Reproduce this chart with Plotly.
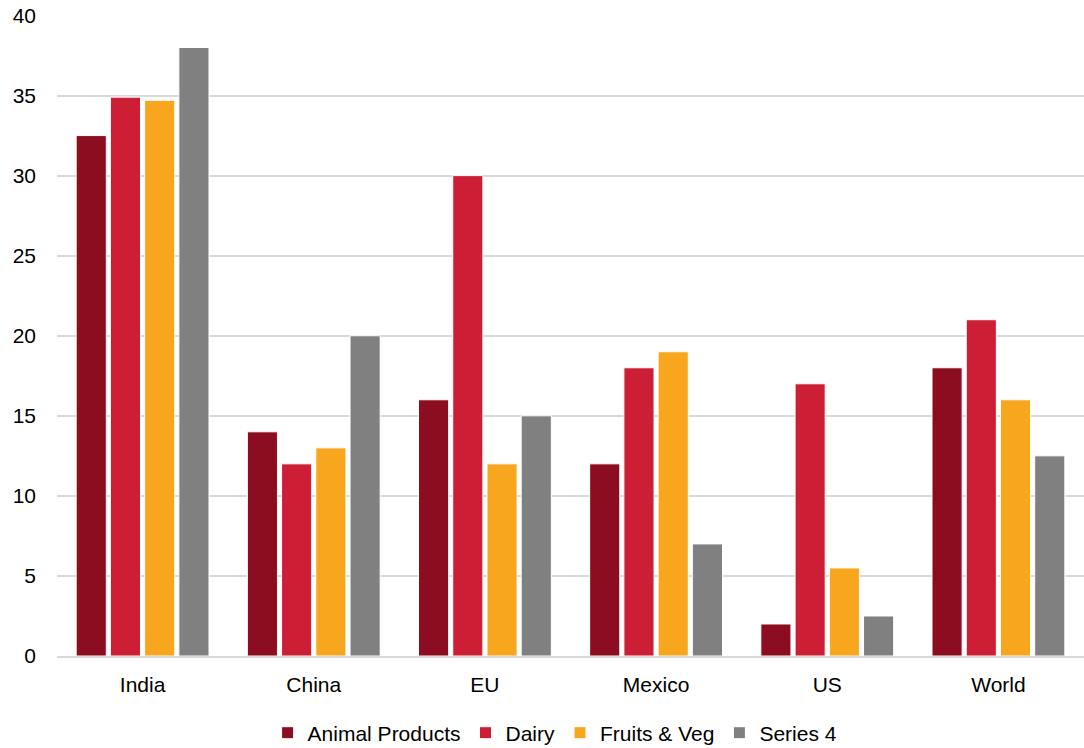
import plotly.graph_objects as go

categories = ["India", "China", "EU", "Mexico", "US", "World"]
animal_products = [32.5, 14, 16, 12, 2, 18]
dairy = [34.9, 12, 30, 18, 17, 21]
fruits_veg = [34.7, 13, 12, 19, 5.5, 16]
series4 = [38, 20, 15, 7, 2.5, 12.5]
y_ticks = [0, 5, 10, 15, 20, 25, 30, 35, 40]

series = [
    ("Animal Products", animal_products, "#8B0D1F"),
    ("Dairy", dairy, "#CC1F36"),
    ("Fruits & Veg", fruits_veg, "#F8A61E"),
    ("Series 4", series4, "#808080"),
]

fig = go.Figure()
for name, vals, col in series:
    fig.add_trace(go.Bar(x=categories, y=vals, name=name, marker_color=col,
                         marker_line_color="white", marker_line_width=1))

fig.update_layout(
    width=1084, height=748,
    margin=dict(l=57, r=0, t=15, b=92, autoexpand=False),
    paper_bgcolor="white", plot_bgcolor="white",
    barmode="group", bargap=0.2, bargroupgap=0.12,
    font=dict(family="Liberation Sans, Arial, sans-serif", size=21, color="#000000"),
    showlegend=True,
    legend=dict(orientation="h", x=0.485, xanchor="center",
                yref="container", y=0.02, yanchor="middle",
                font=dict(size=21), itemwidth=30, traceorder="normal"),
    yaxis=dict(range=[0, 40.03], tickvals=y_ticks,
               showgrid=True, gridcolor="#D9D9D9", gridwidth=1.5,
               zeroline=False, ticks="", showline=False, tickfont=dict(size=21),
               ticklabelstandoff=20),
    xaxis=dict(showline=True, linecolor="#D9D9D9", linewidth=1.5, ticks="",
               tickfont=dict(size=21), ticklabelstandoff=9),
)

fig.write_html("out.html", config={"displayModeBar": False},
               post_script="document.body.style.margin='0';document.body.style.overflow='hidden';")
